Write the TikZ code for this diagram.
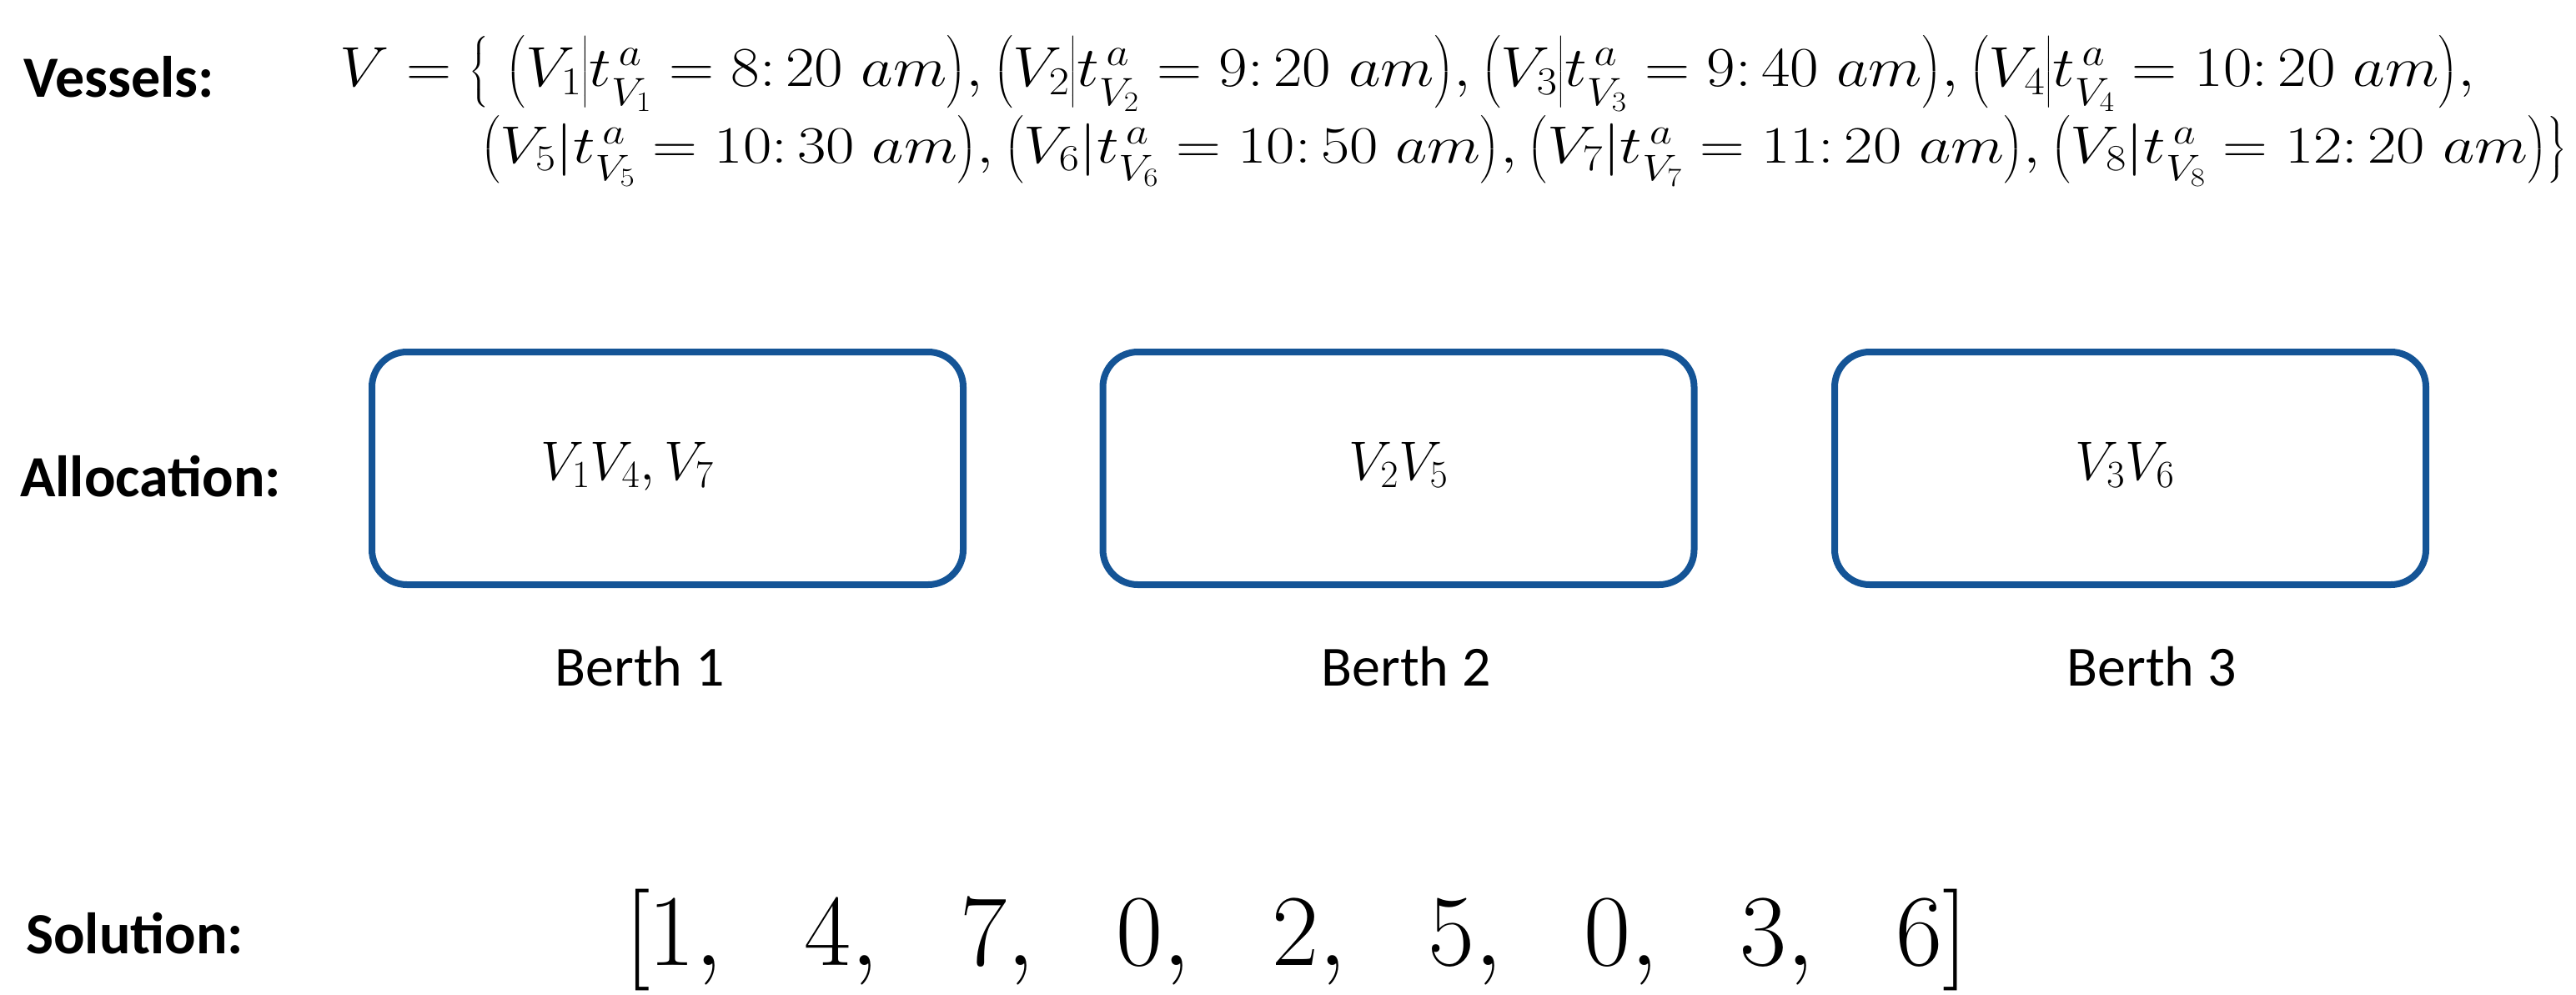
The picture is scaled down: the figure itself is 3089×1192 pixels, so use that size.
\RequirePackage{fix-cm}
\documentclass[tikz,border=0pt]{standalone}
\usepackage{amsmath}
\usepackage{graphicx}
\usepackage{fontspec}
\setmainfont{Carlito}
\definecolor{boxblue}{RGB}{20,84,150}
\tikzset{
  lbl/.style={anchor=base west, inner sep=0pt, font=\fontsize{70}{84}\selectfont\bfseries},
  berthbox/.style={draw=boxblue, line width=8pt, rounded corners=42pt, minimum width=709pt, minimum height=279pt, inner sep=0pt},
  berthlbl/.style={anchor=base, inner sep=0pt, font=\fontsize{68}{82}\selectfont},
  mth/.style={inner sep=0pt, font=\fontsize{70}{84}\selectfont},
  boxmth/.style={anchor=base, inner sep=0pt, font=\fontsize{66}{80}\selectfont},
  soln/.style={anchor=base west, inner sep=0pt, font=\fontsize{122}{146}\selectfont},
}
\newcommand{\solcell}[1]{\makebox[187pt][l]{$#1,$}}
\newcommand{\tva}[1]{t^{\,a}_{\raisebox{-7pt}{$\scriptstyle V_{#1}$}}}
\begin{document}
\begin{tikzpicture}[x=1pt,y=-1pt]
\useasboundingbox (0,0) rectangle (3089,1192);
% labels
\node[lbl] (vessels) at (28,116) {Vessels:};
\node[lbl] (alloc) at (24,595) {Allocation:};
\node[lbl] (sol) at (31,1143) {Solution:};
% vessel set
\node[mth, anchor=base west] (l1) at (407,103) {\resizebox{2561pt}{60pt}{$V=\big\{\;\bigl(V_1\big|\tva{1}=8{:}\,20\;am\bigr),\bigl(V_2\big|\tva{2}=9{:}\,20\;am\bigr),\bigl(V_3\big|\tva{3}=9{:}\,40\;am\bigr),\bigl(V_4\big|\tva{4}=10{:}\,20\;am\bigr),$}};
\node[mth, anchor=base west] (l2) at (576,195) {\resizebox{2502pt}{56pt}{$\bigl(V_5|\tva{5}=10{:}\,30\;am\bigr),\bigl(V_6|\tva{6}=10{:}\,50\;am\bigr),\bigl(V_7|\tva{7}=11{:}\,20\;am\bigr),\bigl(V_8|\tva{8}=12{:}\,20\;am\bigr)\big\}$}};
% berths
\node[berthbox] (b1) at (800.5,561.5) {};
\node[berthbox] (b2) at (1677,561.5) {};
\node[berthbox] (b3) at (2554.5,561.5) {};
\node[boxmth] (t1) at (752,575) {$V_1V_4,V_7$};
\node[boxmth] (t2) at (1677,575) {$V_2V_5$};
\node[boxmth] (t3) at (2548,575) {$V_3V_6$};
\node[berthlbl] (n1) at (767,822) {Berth 1};
\node[berthlbl] (n2) at (1686,822) {Berth 2};
\node[berthlbl] (n3) at (2580,822) {Berth 3};
% solution
\node[soln] (vec) at (749,1157) {\makebox[28pt][l]{$[$}\solcell{1}\solcell{4}\solcell{7}\solcell{0}\solcell{2}\solcell{5}\solcell{0}\solcell{3}$6]$};
\end{tikzpicture}
\end{document}
